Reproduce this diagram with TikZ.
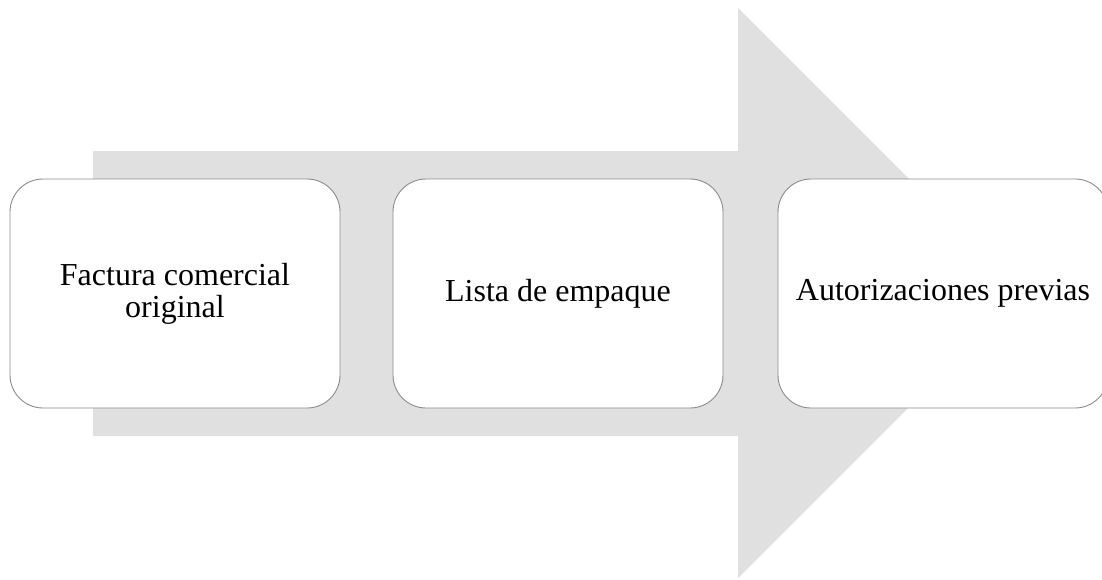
\documentclass[tikz,border=0pt]{standalone}
\usepackage{fontspec}
\setmainfont{Liberation Serif}
\definecolor{arrowgray}{HTML}{E0E0E0}
\definecolor{boxline}{HTML}{8C8C8C}
\begin{document}
\begin{tikzpicture}[x=1pt,y=-1pt,
  stepbox/.style={draw=boxline, line width=0.9pt, fill=white, rounded corners=33pt,
    minimum width=330pt, minimum height=229pt, align=center, inner sep=0pt,
    font=\fontsize{32}{32}\selectfont}]
\useasboundingbox (0,0) rectangle (1102,579);
\fill[arrowgray] (93,151) -- (738,151) -- (738,8) -- (1023,293) -- (738,578) -- (738,436) -- (93,436) -- cycle;
\node[stepbox] (b1) at (175,293.5) {Factura comercial\\original};
\node[stepbox] (b2) at (558,293.5) {Lista de empaque};
\node[stepbox] (b3) at (943,293.5) {Autorizaciones previas};
\end{tikzpicture}
\end{document}
